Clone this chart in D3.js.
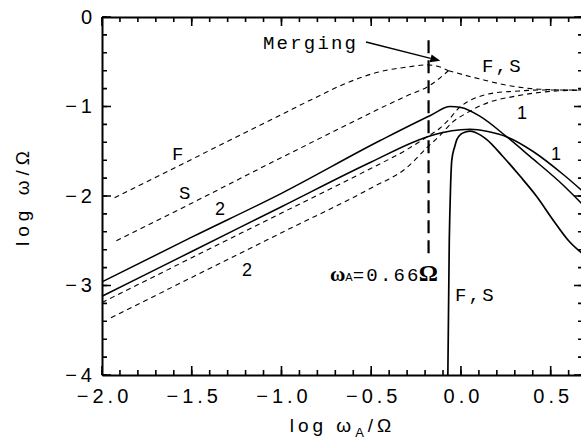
<!DOCTYPE html>
<html>
<head>
<meta charset="utf-8">
<script src="https://cdn.jsdelivr.net/npm/d3@7"></script>
<style>
  body { margin: 0; background: #fff; }
</style>
</head>
<body>
<div id="chart"></div>
<script>
// curve F (dashed, upper)
const fX = [-1.93, -1.5, -1.0, -0.82, -0.64, -0.45, -0.3, -0.19, -0.13, -0.07];
const fY = [-2.02, -1.59, -1.09, -0.91, -0.74, -0.61, -0.56, -0.535, -0.55, -0.6];
// merged F,S branch (dashed)
const fsX = [-0.07, 0.1, 0.25, 0.39, 0.55, 0.68];
const fsY = [-0.6, -0.69, -0.76, -0.8, -0.815, -0.82];
// curve S (dashed)
const sX = [-1.92, -1.5, -1.0, -0.64, -0.45, -0.3, -0.17, -0.07];
const sY = [-2.5, -2.08, -1.57, -1.21, -1.02, -0.88, -0.76, -0.6];
// solid curve A (upper solid)
const aX = [-2.0, -1.5, -1.0, -0.45, -0.17, -0.06, 0.0, 0.107, 0.256, 0.386, 0.57, 0.68];
const aY = [-2.96, -2.46, -1.97, -1.38, -1.1, -1.0, -1.01, -1.11, -1.34, -1.56, -1.88, -2.1];
// solid curve B (lower solid)
const bX = [-2.0, -1.5, -1.0, -0.5, -0.19, -0.1, 0.0, 0.05, 0.15, 0.256, 0.4, 0.57, 0.68];
const bY = [-3.12, -2.62, -2.12, -1.62, -1.34, -1.29, -1.26, -1.255, -1.28, -1.34, -1.5, -1.76, -1.95];
// solid curve E (cut-off branch)
const eX = [-0.073, -0.065, -0.062, -0.058, -0.051, -0.035, -0.023, 0.0, 0.025, 0.051, 0.08, 0.144, 0.23, 0.33, 0.42, 0.514, 0.6, 0.68];
const eY = [-4.0, -2.49, -2.2, -1.9, -1.6, -1.45, -1.37, -1.31, -1.285, -1.275, -1.29, -1.37, -1.55, -1.78, -2.0, -2.27, -2.5, -2.65];
// dashed curve C
const cX = [-2.0, -1.5, -1.0, -0.5, -0.3, -0.19, -0.116, -0.06, -0.023, 0.034, 0.1, 0.18, 0.3, 0.45, 0.68];
const cY = [-3.19, -2.69, -2.19, -1.69, -1.48, -1.34, -1.24, -1.13, -1.04, -0.95, -0.89, -0.85, -0.83, -0.815, -0.815];
// dashed curve D
const dX = [-1.95, -1.5, -1.0, -0.5, -0.3, -0.19, -0.12, -0.05, 0.034, 0.16, 0.29, 0.45, 0.68];
const dY = [-3.36, -2.91, -2.41, -1.91, -1.68, -1.46, -1.33, -1.18, -1.07, -0.95, -0.89, -0.84, -0.815];

const xMajor = [-2.0, -1.5, -1.0, -0.5, 0.0, 0.5];
const yMajor = [0, -1, -2, -3, -4];
const omegaA = 0.66;

const width = 581, height = 442;
const margin = { top: 17, right: -2, bottom: 67, left: 102 };

const svg = d3.select('#chart').append('svg')
  .attr('width', width)
  .attr('height', height);

const x = d3.scaleLinear().domain([-2.0, 0.68]).range([margin.left, width - margin.right]);
const y = d3.scaleLinear().domain([-4, 0]).range([height - margin.bottom, margin.top]);

const xMinor = d3.range(-20, 7).map(d => d / 10);
const yMinor = d3.range(-20, 1).map(d => d / 5);

const mono = '"Liberation Mono", "Courier New", monospace';
const sans = '"Liberation Sans", Arial, sans-serif';
const serif = '"Liberation Serif", "Times New Roman", serif';

// curves
const lineGen = d3.line().curve(d3.curveMonotoneX).x(d => x(d[0])).y(d => y(d[1]));
const plot = svg.append('g');

const curves = [
  { xs: fX, ys: fY, dash: '5,4', w: 1.1 },
  { xs: fsX, ys: fsY, dash: '5,4', w: 1.1 },
  { xs: sX, ys: sY, dash: '5,4', w: 1.1 },
  { xs: cX, ys: cY, dash: '5,4', w: 1.1 },
  { xs: dX, ys: dY, dash: '5,4', w: 1.1 },
  { xs: aX, ys: aY, dash: null, w: 1.5 },
  { xs: bX, ys: bY, dash: null, w: 1.5 },
  { xs: eX, ys: eY, dash: null, w: 1.7 }
];

curves.forEach(c => {
  plot.append('path')
    .datum(d3.zip(c.xs, c.ys))
    .attr('d', lineGen)
    .attr('fill', 'none')
    .attr('stroke', '#000')
    .attr('stroke-width', c.w)
    .attr('stroke-dasharray', c.dash);
});

// vertical line at omega_A = 0.66 Omega
const xv = Math.log10(omegaA);
plot.append('line')
  .attr('x1', x(xv)).attr('x2', x(xv))
  .attr('y1', y(-0.26)).attr('y2', y(-2.68))
  .attr('stroke', '#000').attr('stroke-width', 2.2)
  .attr('stroke-dasharray', '13,7');

// arrow for "Merging"
const ax0 = 366, ay0 = 42, ax1 = x(-0.115), ay1 = y(-0.49);
const ang = Math.atan2(ay1 - ay0, ax1 - ax0);
const hl = 10, hw = 4;
const bx = ax1 - hl * Math.cos(ang), by = ay1 - hl * Math.sin(ang);
svg.append('line')
  .attr('x1', ax0).attr('y1', ay0).attr('x2', bx).attr('y2', by)
  .attr('stroke', '#000').attr('stroke-width', 1.4);
svg.append('path')
  .attr('d', `M${ax1},${ay1}L${bx + hw * Math.sin(ang)},${by - hw * Math.cos(ang)}L${bx - hw * Math.sin(ang)},${by + hw * Math.cos(ang)}Z`)
  .attr('fill', '#000');

function label(txt, px, py, font, size, ls) {
  svg.append('text').attr('x', px).attr('y', py)
    .attr('font-family', font).attr('font-size', size)
    .attr('letter-spacing', ls).attr('fill', '#000').text(txt);
}

label('Merging', 263, 49, mono, 19, 2.2);
label('F,S', 482, 72, mono, 19, 2.2);
label('F', 172, 160, mono, 19, 2.2);
label('S', 179, 199, mono, 19, 2.2);
label('2', 215, 215, sans, 18, 0);
label('2', 242, 276, sans, 18, 0);
label('1', 517, 119, sans, 18, 0);
label('1', 551, 160, sans, 18, 0);
label('F,S', 455, 301, mono, 19, 2.2);

// omega_A = 0.66 Omega label
const wl = svg.append('text').attr('x', 330).attr('y', 281).attr('fill', '#000');
wl.append('tspan').attr('font-family', serif).attr('font-weight', 'bold').attr('font-size', 21).text('ω');
wl.append('tspan').attr('font-family', sans).attr('font-size', 11).text('A');
wl.append('tspan').attr('font-family', mono).attr('font-size', 19).attr('letter-spacing', 2.2).text('=0.66');
wl.append('tspan').attr('font-family', serif).attr('font-weight', 'bold').attr('font-size', 24).attr('dx', -2).text('Ω');

// axis titles
const xt = svg.append('text')
  .attr('x', (margin.left + x(0.68)) / 2).attr('y', 432)
  .attr('text-anchor', 'middle')
  .attr('font-family', sans).attr('font-size', 19).attr('letter-spacing', 4).attr('fill', '#000');
xt.append('tspan').text('log  ω');
xt.append('tspan').attr('font-size', 13).attr('dy', 5).text('A');
xt.append('tspan').attr('dy', -5).text('/Ω');

svg.append('text')
  .attr('transform', `translate(29,196) rotate(-90)`)
  .attr('text-anchor', 'middle')
  .attr('font-family', sans).attr('font-size', 19).attr('letter-spacing', 5).attr('fill', '#000')
  .text('log  ω/Ω');

// axes: labels and frame from d3.axis
const gx = svg.append('g').attr('transform', `translate(0,${y(-4)})`)
  .call(d3.axisBottom(x).tickValues(xMajor).tickSize(0).tickPadding(14).tickFormat(d3.format('.1f')));
const gy = svg.append('g').attr('transform', `translate(${margin.left},0)`)
  .call(d3.axisLeft(y).tickValues(yMajor).tickSize(0).tickPadding(6).tickFormat(d3.format('d')));
svg.append('g').attr('transform', `translate(0,${y(0)})`)
  .call(d3.axisTop(x).tickValues([]).tickSize(0));
svg.append('g').attr('transform', `translate(${x(0.68)},0)`)
  .call(d3.axisRight(y).tickValues([]).tickSize(0));

svg.selectAll('.domain').attr('stroke', '#000').attr('stroke-width', 2);
gx.selectAll('text').attr('font-family', sans)
  .attr('font-size', 20).attr('letter-spacing', 4).attr('fill', '#000').attr('dx', 2);
gy.selectAll('text').attr('font-family', sans)
  .attr('font-size', 20).attr('letter-spacing', 4).attr('fill', '#000');

// inward tick marks as paths, positioned by the scales
function tickPath(vals, len, horiz) {
  let d = '';
  vals.forEach(v => {
    if (horiz) {
      const px = x(v);
      d += `M${px},${y(-4)}V${y(-4) - len}M${px},${y(0)}V${y(0) + len}`;
    } else {
      const py = y(v);
      d += `M${x(-2)},${py}H${x(-2) + len}M${x(0.68)},${py}H${x(0.68) - len}`;
    }
  });
  return d;
}

const ticks = svg.append('g').attr('fill', 'none').attr('stroke', '#000').attr('stroke-width', 1.6);
ticks.append('path').attr('d', tickPath(xMajor, 9, true));
ticks.append('path').attr('d', tickPath(xMinor, 5, true));
ticks.append('path').attr('d', tickPath(yMajor, 9, false));
ticks.append('path').attr('d', tickPath(yMinor, 5, false));
</script>
</body>
</html>
